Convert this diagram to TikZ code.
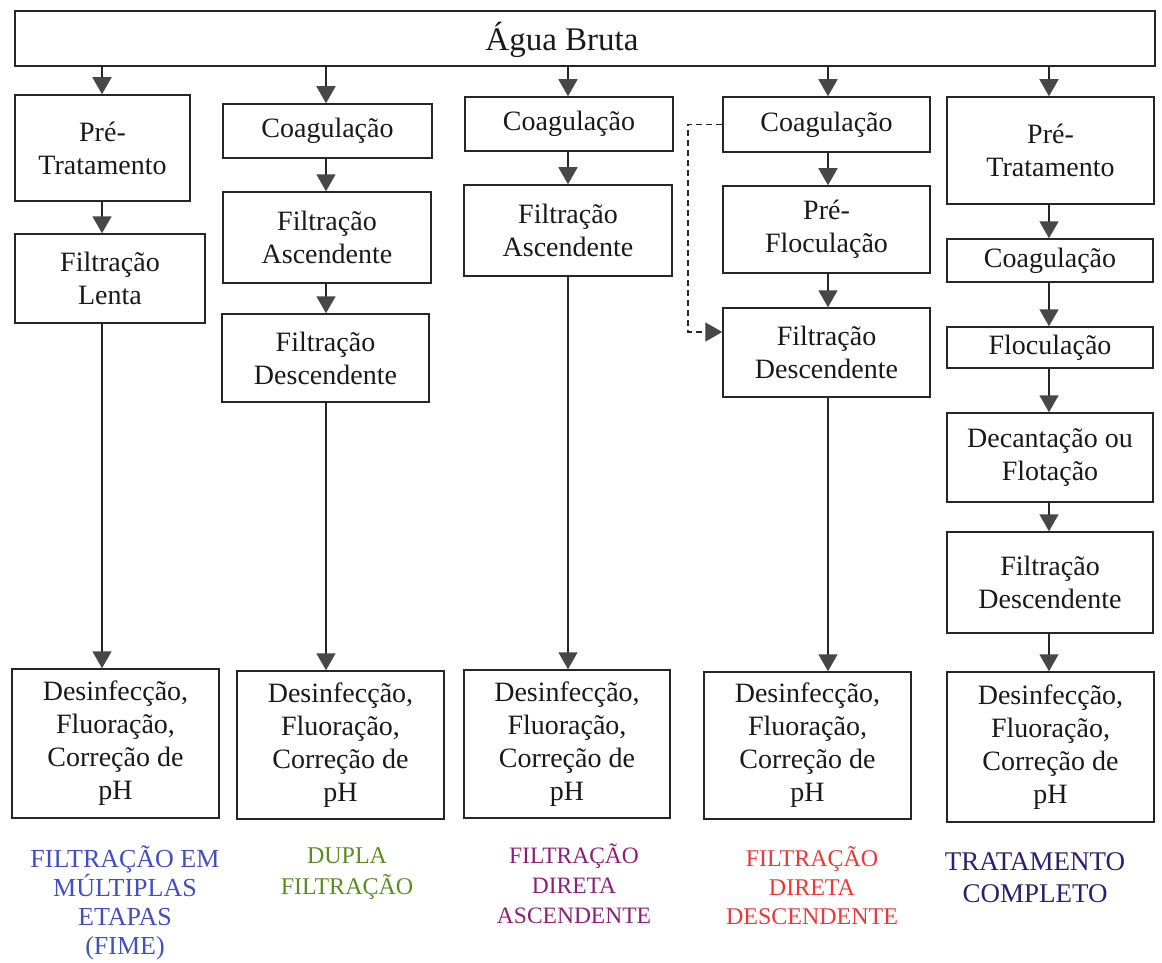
\documentclass[tikz,border=0pt]{standalone}
\usepackage{fontspec}
\setmainfont{Liberation Serif}
\usetikzlibrary{arrows.meta}

\definecolor{cfime}{RGB}{65,80,190}
\definecolor{cdupla}{RGB}{90,140,30}
\definecolor{cdirasc}{RGB}{140,30,120}
\definecolor{cdirdesc}{RGB}{235,55,55}
\definecolor{ccomp}{RGB}{45,30,110}

% process box given by its corners (x1,y1) -- (x2,y2)
\newcommand\procbox[6]{%
  \node[stepbox, minimum width={#4-#2}, minimum height={#5-#3}] (#1)
    at ({(#2+#4)/2},{(#3+#5)/2}) {#6};}

\begin{document}
\begin{tikzpicture}[x=1pt, y=-1pt,
  stepbox/.style={draw=black!85, line width=1.5pt, align=center, inner sep=0pt,
    font=\fontsize{28}{33}\selectfont, text=black!90},
  flow/.style={draw=black!85, line width=1.5pt,
    -{Triangle[width=19pt, length=17pt, color=black!72]}},
  dashflow/.style={flow, dashed, dash pattern=on 6pt off 4pt, line width=1.3pt},
  lab/.style={align=center, inner sep=0pt}]

\useasboundingbox (0,0) rectangle (1162,963);

% raw water header
\node[stepbox, minimum width=1140, minimum height=55] (top) at (585,38.5) {};
\node[font=\fontsize{33}{38}\selectfont, text=black!90] (toptxt) at (562,40) {Água Bruta};

% column 1: slow filtration
\procbox{c1a}{15}{95}{190}{201}{Pré-\\Tratamento}
\procbox{c1b}{15}{234}{205}{323}{Filtração\\Lenta}
\procbox{c1f}{12}{669}{219}{818}{Desinfecção,\\Fluoração,\\Correção de\\pH}

% column 2: double filtration
\procbox{c2a}{223}{104}{432}{158}{Coagulação}
\procbox{c2b}{223}{192}{431}{283}{Filtração\\Ascendente}
\procbox{c2c}{222}{314}{429}{402}{Filtração\\Descendente}
\procbox{c2f}{237}{671}{444}{819}{Desinfecção,\\Fluoração,\\Correção de\\pH}

% column 3: direct upflow filtration
\procbox{c3a}{465}{97}{673}{151}{Coagulação}
\procbox{c3b}{464}{185}{672}{276}{Filtração\\Ascendente}
\procbox{c3f}{464}{670}{670}{818}{Desinfecção,\\Fluoração,\\Correção de\\pH}

% column 4: direct downflow filtration
\procbox{c4a}{723}{97}{930}{152}{Coagulação}
\procbox{c4b}{723}{186}{930}{273}{Pré-\\Floculação}
\procbox{c4c}{723}{308}{930}{397}{Filtração\\Descendente}
\procbox{c4f}{704}{672}{911}{819}{Desinfecção,\\Fluoração,\\Correção de\\pH}

% column 5: complete treatment
\procbox{c5a}{947}{97}{1154}{204}{Pré-\\Tratamento}
\procbox{c5b}{947}{239}{1153}{282}{Coagulação}
\procbox{c5c}{947}{327}{1153}{368}{Floculação}
\procbox{c5d}{947}{413}{1153}{502}{Decantação ou\\Flotação}
\procbox{c5e}{947}{532}{1153}{633}{Filtração\\Descendente}
\procbox{c5f}{947}{672}{1154}{822}{Desinfecção,\\Fluoração,\\Correção de\\pH}

% flow lines of each column
\coordinate (k1) at (102,0);
\coordinate (k2) at (326,0);
\coordinate (k3) at (568,0);
\coordinate (k4) at (828,0);
\coordinate (k5) at (1049,0);

\draw[flow] (top.south -| k1) -- (c1a.north -| k1);
\draw[flow] (c1a.south -| k1) -- (c1b.north -| k1);
\draw[flow] (c1b.south -| k1) -- (c1f.north -| k1);

\draw[flow] (top.south -| k2) -- (c2a.north -| k2);
\draw[flow] (c2a.south -| k2) -- (c2b.north -| k2);
\draw[flow] (c2b.south -| k2) -- (c2c.north -| k2);
\draw[flow] (c2c.south -| k2) -- (c2f.north -| k2);

\draw[flow] (top.south -| k3) -- (c3a.north -| k3);
\draw[flow] (c3a.south -| k3) -- (c3b.north -| k3);
\draw[flow] (c3b.south -| k3) -- (c3f.north -| k3);

\draw[flow] (top.south -| k4) -- (c4a.north -| k4);
\draw[flow] (c4a.south -| k4) -- (c4b.north -| k4);
\draw[flow] (c4b.south -| k4) -- (c4c.north -| k4);
\draw[flow] (c4c.south -| k4) -- (c4f.north -| k4);

\draw[flow] (top.south -| k5) -- (c5a.north -| k5);
\draw[flow] (c5a.south -| k5) -- (c5b.north -| k5);
\draw[flow] (c5b.south -| k5) -- (c5c.north -| k5);
\draw[flow] (c5c.south -| k5) -- (c5d.north -| k5);
\draw[flow] (c5d.south -| k5) -- (c5e.north -| k5);
\draw[flow] (c5e.south -| k5) -- (c5f.north -| k5);

% bypass of the pre-flocculation
\coordinate (bypass) at (688,332);
\draw[dashflow] (c4a.west) -| (bypass) -- (c4c.west |- bypass);

% treatment names
\node[lab, text=cfime, font=\fontsize{26}{29}\selectfont] (l1) at (125,903)
  {FILTRAÇÃO EM\\MÚLTIPLAS\\ETAPAS\\(FIME)};
\node[lab, text=cdupla, font=\fontsize{24}{31}\selectfont] (l2) at (347,874)
  {DUPLA\\FILTRAÇÃO};
\node[lab, text=cdirasc, font=\fontsize{23.5}{30}\selectfont] (l3) at (574,884)
  {FILTRAÇÃO\\DIRETA\\ASCENDENTE};
\node[lab, text=cdirdesc, font=\fontsize{24}{29}\selectfont] (l4) at (812,886)
  {FILTRAÇÃO\\DIRETA\\DESCENDENTE};
\node[lab, text=ccomp, font=\fontsize{27}{32}\selectfont] (l5) at (1035,878)
  {TRATAMENTO\\COMPLETO};
\end{tikzpicture}
\end{document}
